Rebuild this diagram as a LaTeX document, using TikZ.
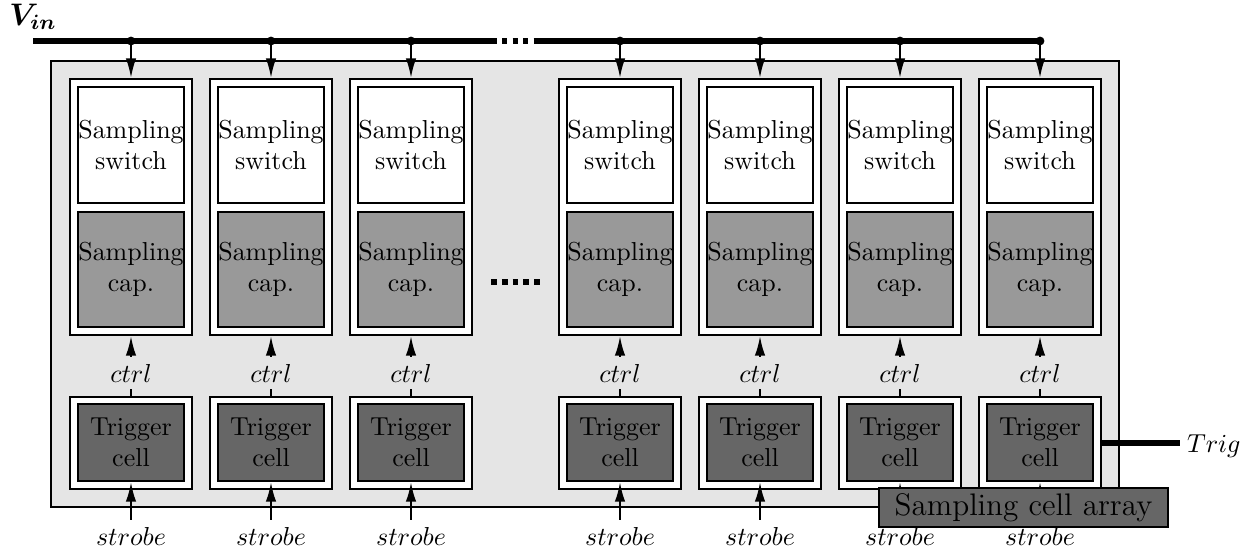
\documentclass[tikz,border=0pt]{standalone}
\usepackage{bm}
\usetikzlibrary{arrows.meta}
\begin{document}
\begin{tikzpicture}[x=0.385pt,y=-0.385pt,
  box/.style={draw, line width=0.8pt, inner sep=0pt, align=center},
  outerw/.style={box, fill=white, minimum width=122*0.385pt},
  innerbox/.style={box, minimum width=106*0.385pt},
  swbox/.style={innerbox, fill=white, minimum height=116*0.385pt},
  capbox/.style={innerbox, fill=black!40, minimum height=115*0.385pt},
  trgbox/.style={innerbox, fill=black!60, minimum height=77*0.385pt},
  topouter/.style={outerw, minimum height=256*0.385pt},
  trgouter/.style={outerw, minimum height=92*0.385pt},
  lbl/.style={inner sep=2.5pt, text height=7pt, text depth=0pt},
  arr/.style={line width=0.8pt, -{Latex[length=7.5pt,width=4pt]}},
  bus/.style={line width=2pt},
]
\useasboundingbox (0,0) rectangle (1244,551);

% outer gray array
\node[draw, line width=0.7pt, fill=black!10, inner sep=0pt,
      minimum width=1068*0.385pt, minimum height=446*0.385pt] (sca) at (585,284) {};

% Vin bus
\node[anchor=base, inner sep=0pt, font=\large] (vin) at (33,25) {$\bm{V_{in}}$};
\coordinate (bs) at (33,41);
\coordinate (bgl) at (497,41);
\coordinate (bgr) at (534,41);
\coordinate (be) at (1040,41);
\draw[bus] (bs) -- (bgl);
\draw[bus, dash pattern=on 1.93pt off 2.12pt, dash phase=2.12pt] (bgl) -- (bgr);
\draw[bus] (bgr) -- (be);

% middle dots
\coordinate (ml) at (491,282);
\coordinate (mr) at (540,282);
\draw[line width=2.2pt, dash pattern=on 2.23pt off 1.93pt] (ml) -- (mr);

\foreach \i/\x in {1/131,2/271,3/411,4/620,5/760,6/900,7/1040}{
  \node[topouter] (top\i) at (\x,207) {};
  \node[swbox] (sw\i) at (\x,145) {Sampling\\switch};
  \node[capbox] (cap\i) at (\x,269.5) {Sampling\\cap.};
  \node[trgouter] (trgo\i) at (\x,443) {};
  \node[trgbox] (trg\i) at (\x,442.5) {Trigger\\cell};
  \node[lbl] (ctrl\i) at (\x,373) {$ctrl$};
  \node[lbl] (str\i) at (\x,536) {$strobe$};
  \coordinate (t\i) at (\x,41);
  \fill (t\i) circle (1.7pt);
  \draw[arr] (t\i) -- (top\i.north);
  \draw[arr] (ctrl\i.north) -- (top\i.south);
  \draw[line width=0.8pt] (trgo\i.north) -- (ctrl\i.south);
  \draw[arr] (str\i.north) -- (trg\i.south);
}

% Trig output
\node[lbl, anchor=west] (trig) at (1180,443) {$Trig$};
\draw[bus] (trgo7.east) -- (trig.west);

% label box
\node[draw, line width=0.6pt, fill=black!60, inner sep=0pt, font=\large,
      minimum width=289*0.385pt, minimum height=39*0.385pt] (lab) at (1023.5,507.5) {Sampling cell array};
\end{tikzpicture}
\end{document}
